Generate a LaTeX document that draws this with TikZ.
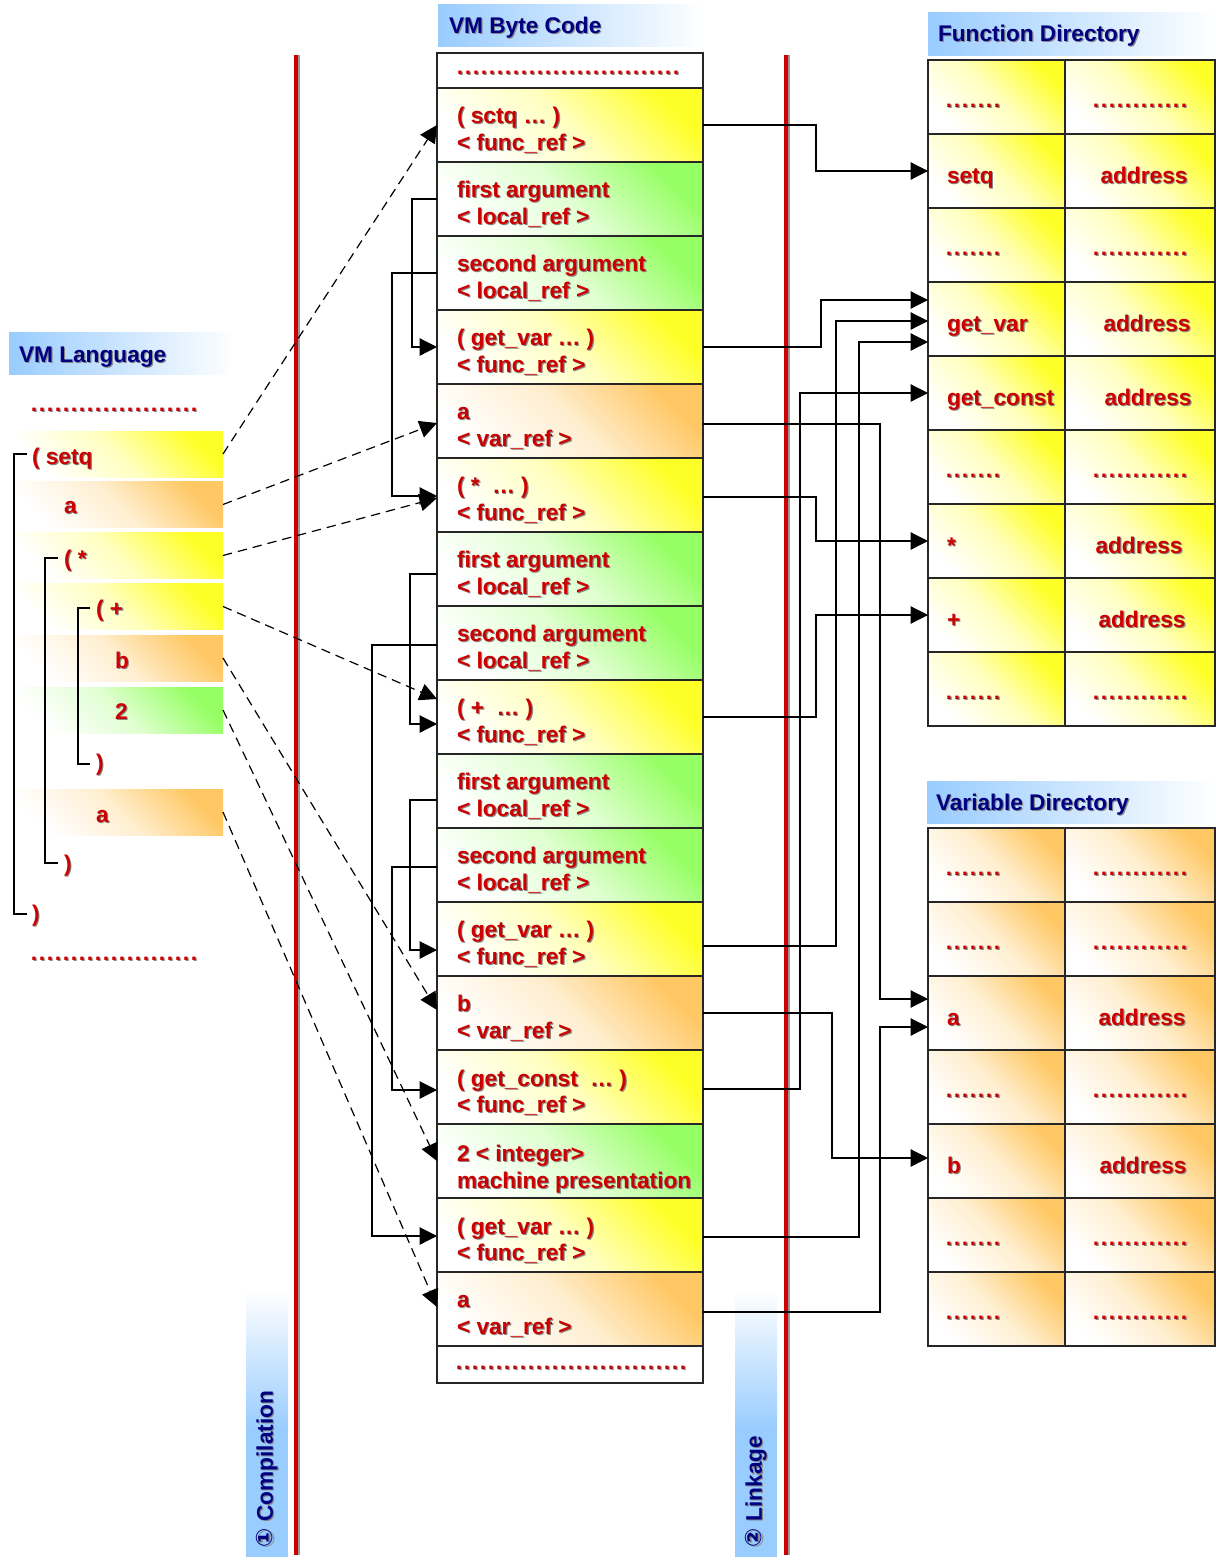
\documentclass[tikz,border=0pt]{standalone}
\usepackage{fontspec}
\setmainfont{Liberation Sans}
\newfontfamily\circfont{DejaVu Sans}
\usetikzlibrary{arrows.meta,calc}

\definecolor{txtred}{RGB}{204,0,0}
\definecolor{navy}{RGB}{0,0,128}
\definecolor{hdrblue}{RGB}{153,204,255}
\definecolor{cyel}{RGB}{255,255,40}
\definecolor{cgrn}{RGB}{150,255,100}
\definecolor{corg}{RGB}{255,200,100}
\definecolor{txtshadow}{RGB}{135,135,135}
\definecolor{railred}{RGB}{204,0,0}

% a run of #2 red dots, one every #1
\newcommand\reddots[2][6pt]{\foreach\k in {1,...,#2}{\hbox to #1{\hss.\hss}}}
% text with a soft grey drop shadow: name, style, position, text
\newcommand\stx[4]{%
  \node[#2,text=txtshadow] (#1-s) at ([shift={(0.9pt,-0.9pt)}]#3) {#4};
  \node[#2] (#1) at (#3) {#4};}

\tikzset{
  lbl/.style={font=\fontsize{17}{20}\selectfont\bfseries, text=txtred,
              inner sep=0pt, outer sep=0pt, anchor=base west},
  lblc/.style={lbl, anchor=base},
  ttl/.style={lbl, text=navy},
  hdr/.style={shading=axis, left color=hdrblue, right color=white,
              inner sep=0pt, outer sep=0pt},
  cellbox/.style={draw=black!85, line width=0.8pt, inner sep=0pt, outer sep=0pt},
  bcrow/.style={cellbox, minimum width=199.5pt, minimum height=55.5pt},
  fcl/.style={cellbox, minimum width=102.75pt, minimum height=55.5pt},
  fcr/.style={cellbox, minimum width=112.5pt, minimum height=55.5pt},
  band/.style={inner sep=0pt, outer sep=0pt, minimum width=156.75pt, minimum height=34.5pt},
  tint/.style={shading=axis, bottom color=white, top color=#1,
               middle color=#1!30!white, shading angle=-45},
  yel/.style={tint=cyel},
  grn/.style={tint=cgrn},
  org/.style={tint=corg},
  conn/.style={line width=0.9pt, -{Triangle[length=13pt,width=13pt]}},
  dconn/.style={conn, dash pattern=on 7pt off 4.5pt},
  brk/.style={line width=0.9pt},
}

\begin{document}
\begin{tikzpicture}[x=0.75pt,y=-0.75pt]
\useasboundingbox (0,0) rectangle (1216,1561);
\fill[white] (0,0) rectangle (1216,1561);

% ---------- title bars ----------
\node[hdr, minimum width=200.25pt, minimum height=31.5pt] (hBC) at (571.5,25) {};
\node[hdr, minimum width=169.5pt, minimum height=31.5pt] (hVL) at (122,353) {};
\node[hdr, minimum width=216pt, minimum height=32.25pt] (hFD) at (1072,33.5) {};
\node[hdr, minimum width=216.75pt, minimum height=31.5pt] (hVD) at (1071.5,802) {};
\stx{tBC}{ttl}{449,33}{VM Byte Code}
\stx{tVL}{ttl}{19,362}{VM Language}
\stx{tFD}{ttl}{938,41}{Function Directory}
\stx{tVD}{ttl}{936,810}{Variable Directory}

% ---------- phase rails ----------
\fill[top color=white, bottom color=hdrblue] (246,1290) rectangle (288,1430);
\fill[hdrblue] (246,1429) rectangle (288,1557);
\fill[top color=white, bottom color=hdrblue] (735,1290) rectangle (777,1430);
\fill[hdrblue] (735,1429) rectangle (777,1557);
\draw[line width=1.5pt, black!40] (299,55) -- (299,1555);
\draw[line width=3pt, railred] (295.5,55) -- (295.5,1555);
\draw[line width=1.5pt, black!40] (789,55) -- (789,1555);
\draw[line width=3pt, railred] (785.5,55) -- (785.5,1555);
\stx{cmp}{ttl, rotate=90, anchor=west}{267,1547}{{\circfont ①} Compilation}
\stx{lnk}{ttl, rotate=90, anchor=west}{756,1547}{{\circfont ②} Linkage}

% ---------- VM language ----------
\node[band, yel] (l1) at (118.5,454) {};
\node[band, org] (l2) at (118.5,504.5) {};
\node[band, yel] (l3) at (118.5,555.5) {};
\node[band, yel] (l4) at (118.5,606.5) {};
\node[band, org] (l5) at (118.5,658) {};
\node[band, grn] (l6) at (118.5,710) {};
\node[band, org] (l7) at (118.5,812) {};
\draw[brk] (27,454) -- (14,454) -- (14,914) -- (27,914);
\draw[brk] (58,558) -- (45,558) -- (45,863) -- (58,863);
\draw[brk] (90,608) -- (78,608) -- (78,764) -- (90,764);
\stx{sd1}{lbl}{30,411}{\reddots{21}}
\stx{s1}{lbl}{32,464}{( setq}
\stx{s2}{lbl}{64,513}{a}
\stx{s3}{lbl}{64,566}{( *}
\stx{s4}{lbl}{96,616}{( +}
\stx{s5}{lbl}{115,668}{b}
\stx{s6}{lbl}{115,719}{2}
\stx{s7}{lbl}{96,770}{)}
\stx{s8}{lbl}{96,822}{a}
\stx{s9}{lbl}{64,871}{)}
\stx{s10}{lbl}{32,921}{)}
\stx{sd2}{lbl}{30,960}{\reddots{21}}

% ---------- VM byte code ----------
\node[cellbox, minimum width=199.5pt, minimum height=26.25pt, fill=white] (b0) at (570,70.5) {};
\node[bcrow, yel] (b1) at (570,125) {};
\node[bcrow, grn] (b2) at (570,199) {};
\node[bcrow, grn] (b3) at (570,273) {};
\node[bcrow, yel] (b4) at (570,347) {};
\node[bcrow, org] (b5) at (570,421) {};
\node[bcrow, yel] (b6) at (570,495) {};
\node[bcrow, grn] (b7) at (570,569) {};
\node[bcrow, grn] (b8) at (570,643) {};
\node[bcrow, yel] (b9) at (570,717) {};
\node[bcrow, grn] (b10) at (570,791) {};
\node[bcrow, grn] (b11) at (570,865) {};
\node[bcrow, yel] (b12) at (570,939) {};
\node[bcrow, org] (b13) at (570,1013) {};
\node[bcrow, yel] (b14) at (570,1087) {};
\node[bcrow, grn] (b15) at (570,1161) {};
\node[bcrow, yel] (b16) at (570,1235) {};
\node[bcrow, org] (b17) at (570,1309) {};
\node[cellbox, minimum width=199.5pt, minimum height=27.75pt, fill=white] (b18) at (570,1364.5) {};

\stx{bd1}{lbl}{456,74}{\reddots{28}}
\stx{b1a}{lbl}{457,123}{( sctq … )}
\stx{b1b}{lbl}{457,150}{< func\_ref >}
\stx{b2a}{lbl}{457,197}{first argument}
\stx{b2b}{lbl}{457,224}{< local\_ref >}
\stx{b3a}{lbl}{457,271}{second argument}
\stx{b3b}{lbl}{457,298}{< local\_ref >}
\stx{b4a}{lbl}{457,345}{( get\_var … )}
\stx{b4b}{lbl}{457,372}{< func\_ref >}
\stx{b5a}{lbl}{457,419}{a}
\stx{b5b}{lbl}{457,446}{< var\_ref >}
\stx{b6a}{lbl}{457,493}{( *\ \ … )}
\stx{b6b}{lbl}{457,520}{< func\_ref >}
\stx{b7a}{lbl}{457,567}{first argument}
\stx{b7b}{lbl}{457,594}{< local\_ref >}
\stx{b8a}{lbl}{457,641}{second argument}
\stx{b8b}{lbl}{457,668}{< local\_ref >}
\stx{b9a}{lbl}{457,715}{( +\ \ … )}
\stx{b9b}{lbl}{457,742}{< func\_ref >}
\stx{b10a}{lbl}{457,789}{first argument}
\stx{b10b}{lbl}{457,816}{< local\_ref >}
\stx{b11a}{lbl}{457,863}{second argument}
\stx{b11b}{lbl}{457,890}{< local\_ref >}
\stx{b12a}{lbl}{457,937}{( get\_var … )}
\stx{b12b}{lbl}{457,964}{< func\_ref >}
\stx{b13a}{lbl}{457,1011}{b}
\stx{b13b}{lbl}{457,1038}{< var\_ref >}
\stx{b14a}{lbl}{457,1086}{( get\_const\ \ … )}
\stx{b14b}{lbl}{457,1112}{< func\_ref >}
\stx{b15a}{lbl}{457,1161}{2 < integer>}
\stx{b15b}{lbl}{457,1188}{machine presentation}
\stx{b16a}{lbl}{457,1234}{( get\_var … )}
\stx{b16b}{lbl}{457,1260}{< func\_ref >}
\stx{b17a}{lbl}{457,1307}{a}
\stx{b17b}{lbl}{457,1334}{< var\_ref >}
\stx{bd2}{lbl}{455,1369}{\reddots{29}}

% ---------- function directory ----------
\node[fcl, yel] (fL1) at (996.5,97) {};   \node[fcr, yel] (fR1) at (1140,97) {};
\node[fcl, yel] (fL2) at (996.5,171) {};  \node[fcr, yel] (fR2) at (1140,171) {};
\node[fcl, yel] (fL3) at (996.5,245) {};  \node[fcr, yel] (fR3) at (1140,245) {};
\node[fcl, yel] (fL4) at (996.5,319) {};  \node[fcr, yel] (fR4) at (1140,319) {};
\node[fcl, yel] (fL5) at (996.5,393) {};  \node[fcr, yel] (fR5) at (1140,393) {};
\node[fcl, yel] (fL6) at (996.5,467) {};  \node[fcr, yel] (fR6) at (1140,467) {};
\node[fcl, yel] (fL7) at (996.5,541) {};  \node[fcr, yel] (fR7) at (1140,541) {};
\node[fcl, yel] (fL8) at (996.5,615) {};  \node[fcr, yel] (fR8) at (1140,615) {};
\node[fcl, yel] (fL9) at (996.5,689) {};  \node[fcr, yel] (fR9) at (1140,689) {};

\stx{f1a}{lbl}{945,107}{\reddots{7}}   \stx{f1b}{lbl}{1092,107}{\reddots{12}}
\stx{f2a}{lbl}{947,183}{setq}           \stx{f2b}{lblc}{1144,183}{address}
\stx{f3a}{lbl}{945,255}{\reddots{7}}   \stx{f3b}{lbl}{1092,255}{\reddots{12}}
\stx{f4a}{lbl}{947,331}{get\_var}       \stx{f4b}{lblc}{1147,331}{address}
\stx{f5a}{lbl}{947,405}{get\_const}     \stx{f5b}{lblc}{1148,405}{address}
\stx{f6a}{lbl}{945,477}{\reddots{7}}   \stx{f6b}{lbl}{1092,477}{\reddots{12}}
\stx{f7a}{lbl}{947,553}{*}              \stx{f7b}{lblc}{1139,553}{address}
\stx{f8a}{lbl}{947,627}{+}              \stx{f8b}{lblc}{1142,627}{address}
\stx{f9a}{lbl}{945,699}{\reddots{7}}   \stx{f9b}{lbl}{1092,699}{\reddots{12}}

% ---------- variable directory ----------
\node[fcl, org] (vL1) at (996.5,865) {};   \node[fcr, org] (vR1) at (1140,865) {};
\node[fcl, org] (vL2) at (996.5,939) {};   \node[fcr, org] (vR2) at (1140,939) {};
\node[fcl, org] (vL3) at (996.5,1013) {};  \node[fcr, org] (vR3) at (1140,1013) {};
\node[fcl, org] (vL4) at (996.5,1087) {};  \node[fcr, org] (vR4) at (1140,1087) {};
\node[fcl, org] (vL5) at (996.5,1161) {};  \node[fcr, org] (vR5) at (1140,1161) {};
\node[fcl, org] (vL6) at (996.5,1235) {};  \node[fcr, org] (vR6) at (1140,1235) {};
\node[fcl, org] (vL7) at (996.5,1309) {};  \node[fcr, org] (vR7) at (1140,1309) {};

\stx{v1a}{lbl}{945,875}{\reddots{7}}    \stx{v1b}{lbl}{1092,875}{\reddots{12}}
\stx{v2a}{lbl}{945,949}{\reddots{7}}    \stx{v2b}{lbl}{1092,949}{\reddots{12}}
\stx{v3a}{lbl}{947,1025}{a}              \stx{v3b}{lblc}{1142,1025}{address}
\stx{v4a}{lbl}{945,1097}{\reddots{7}}   \stx{v4b}{lbl}{1092,1097}{\reddots{12}}
\stx{v5a}{lbl}{947,1173}{b}              \stx{v5b}{lblc}{1143,1173}{address}
\stx{v6a}{lbl}{945,1245}{\reddots{7}}   \stx{v6b}{lbl}{1092,1245}{\reddots{12}}
\stx{v7a}{lbl}{945,1319}{\reddots{7}}   \stx{v7b}{lbl}{1092,1319}{\reddots{12}}

% ---------- compilation: source to byte code ----------
\draw[dconn] (l1.east) -- (b1.west);
\draw[dconn] (l2.east) -- ($(b5.west)+(0,2)$);
\draw[dconn] (l3.east) -- ($(b6.west)+(0,3)$);
\draw[dconn] (l4.east) -- ($(b9.west)+(0,-18)$);
\draw[dconn] (l5.east) -- ($(b13.west)+(0,-3)$);
\draw[dconn] (l6.east) -- (b15.west);
\draw[dconn] (l7.east) -- ($(b17.west)+(0,-2)$);

% ---------- local references inside the byte code ----------
\draw[conn] (b2.west) -- ++(-25,0) |- (b4.west);
\draw[conn] (b3.west) -- ++(-45,0) |- ($(b6.west)+(0,1)$);
\draw[conn] ($(b7.west)+(0,5)$) -- ++(-27,0) |- ($(b9.west)+(0,7)$);
\draw[conn] ($(b8.west)+(0,2)$) -- ++(-65,0) |- ($(b16.west)+(0,1)$);
\draw[conn] ($(b10.west)+(0,9)$) -- ++(-27,0) |- ($(b12.west)+(0,11)$);
\draw[conn] ($(b11.west)+(0,2)$) -- ++(-45,0) |- ($(b14.west)+(0,3)$);

% ---------- linkage: byte code to directories ----------
\draw[conn] (b1.east) -- ++(113,0) |- (fL2.west);
\draw[conn] (b4.east) -- ++(118,0) |- ($(fL4.west)+(0,-19)$);
\draw[conn] ($(b12.east)+(0,7)$) -- ++(133,0) |- ($(fL4.west)+(0,2)$);
\draw[conn] ($(b16.east)+(0,2)$) -- ++(156,0) |- ($(fL4.west)+(0,23)$);
\draw[conn] ($(b14.east)+(0,2)$) -- ++(97,0) |- (fL5.west);
\draw[conn] ($(b6.east)+(0,2)$) -- ++(113,0) |- (fL7.west);
\draw[conn] (b9.east) -- ++(113,0) |- (fL8.west);
\draw[conn] ($(b5.east)+(0,3)$) -- ++(177,0) |- ($(vL3.west)+(0,-14)$);
\draw[conn] ($(b17.east)+(0,3)$) -- ++(177,0) |- ($(vL3.west)+(0,14)$);
\draw[conn] (b13.east) -- ++(129,0) |- ($(vL5.west)+(0,-3)$);
\end{tikzpicture}
\end{document}
